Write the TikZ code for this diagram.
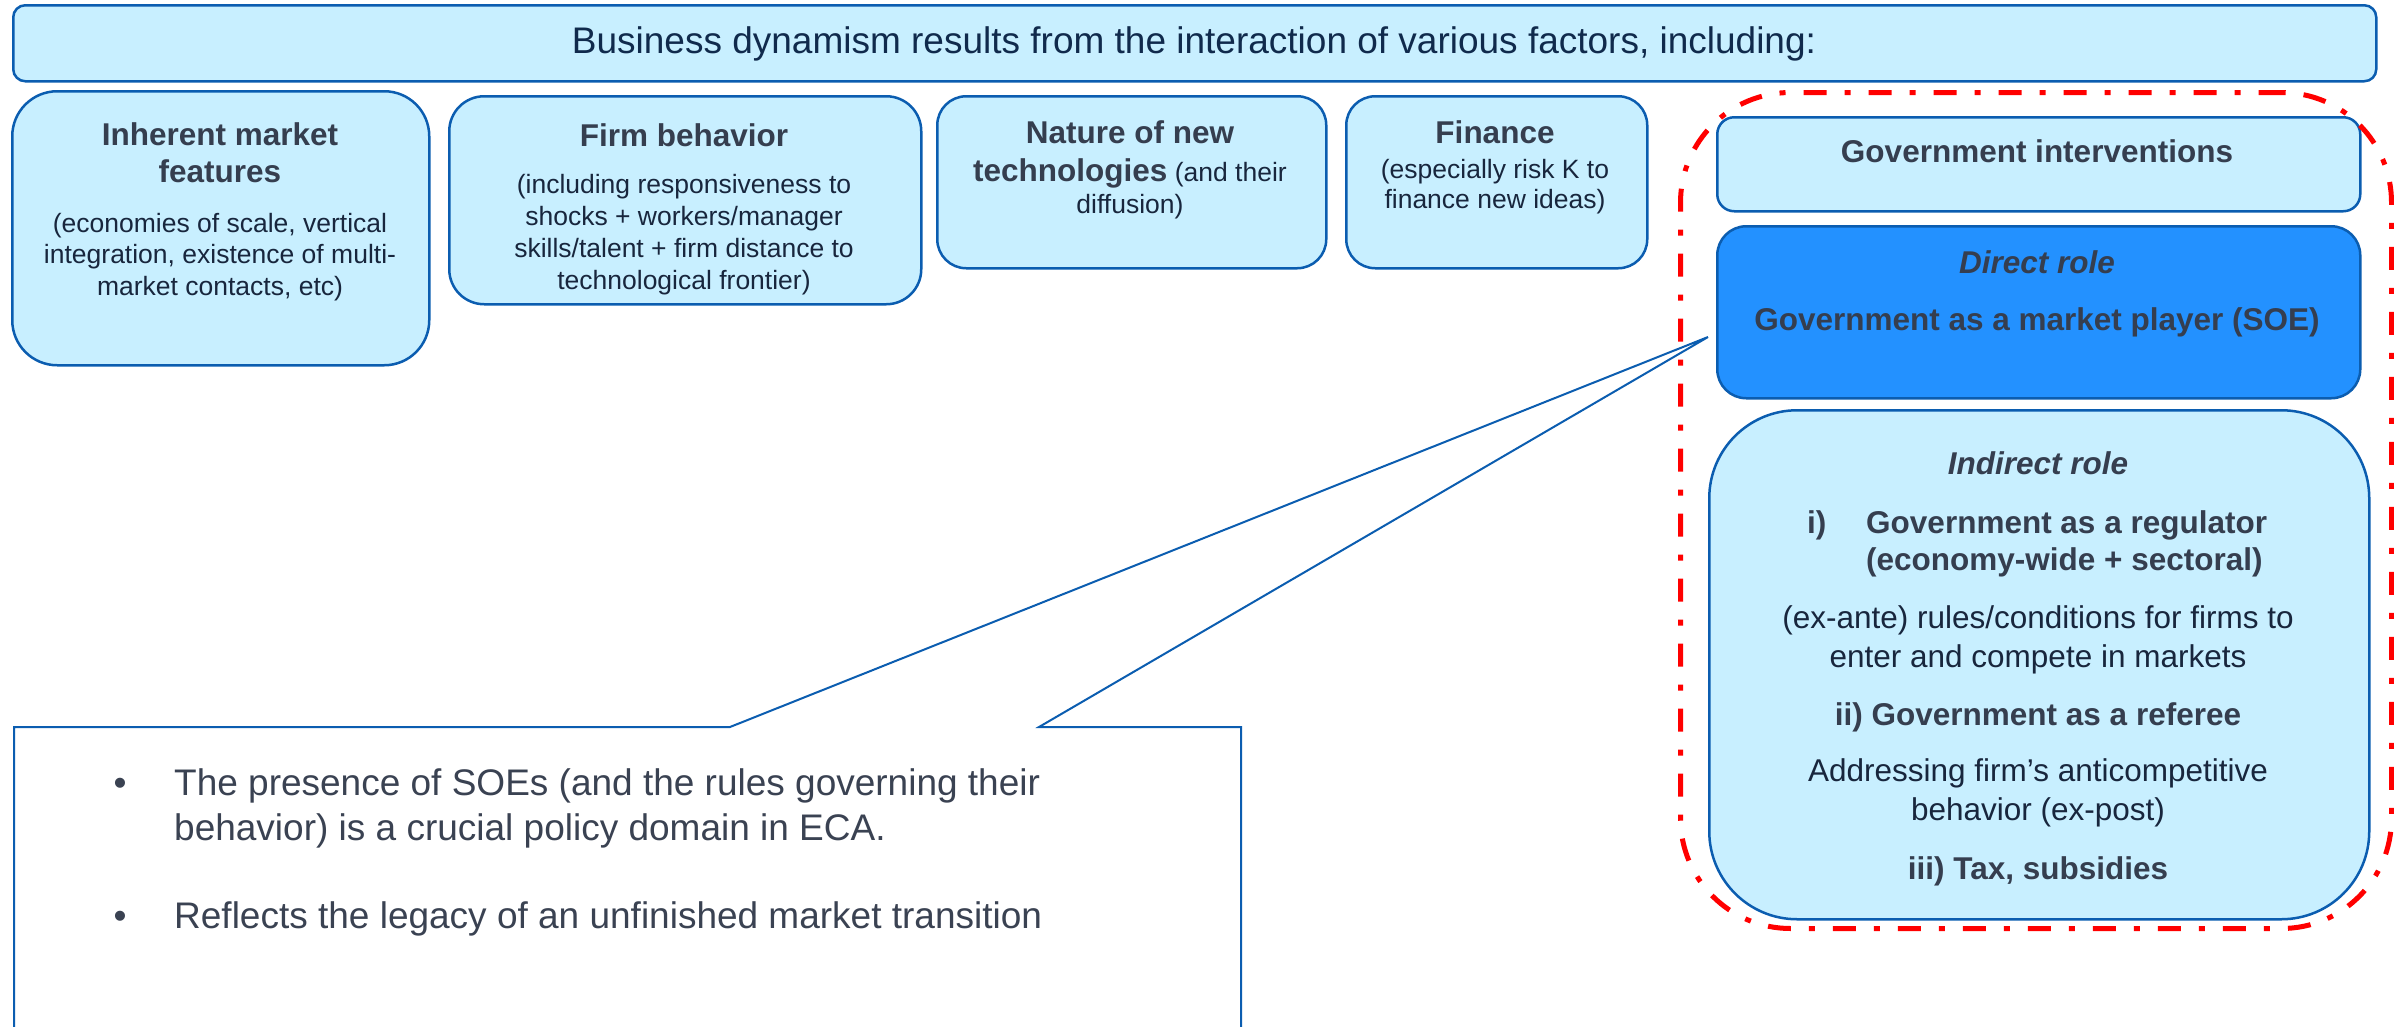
\documentclass[tikz,border=0pt]{standalone}
\usepackage{fontspec}
\setmainfont{Liberation Sans}
\definecolor{boxfill}{HTML}{C8EFFF}
\definecolor{boxline}{HTML}{0B5DB0}
\definecolor{directfill}{HTML}{2391FF}
\definecolor{bannertext}{HTML}{102A4C}
\definecolor{titletext}{HTML}{353E4F}
\definecolor{bodytext}{HTML}{18263D}
\definecolor{calltext}{HTML}{3A4252}
\definecolor{framered}{HTML}{FF0000}

% multi-line nodes below are placed by the baseline of their last line
\tikzset{
  box/.style={draw=boxline, fill=boxfill, line width=2.5pt, inner sep=0pt, anchor=north west},
  ttl/.style={font=\bfseries\fontsize{31.5}{37}\selectfont, text=titletext, inner sep=0pt, anchor=base, align=center},
  itl/.style={font=\bfseries\itshape\fontsize{31.5}{37}\selectfont, text=titletext, inner sep=0pt, anchor=base, align=center},
  small/.style={font=\fontsize{26.5}{31.5}\selectfont, text=bodytext, inner sep=0pt, anchor=base, align=center},
  govtxt/.style={font=\fontsize{31.5}{38.5}\selectfont, text=bodytext, inner sep=0pt, anchor=base, align=center},
  bigtxt/.style={font=\fontsize{37}{45}\selectfont, text=calltext, inner sep=0pt, anchor=base west, align=left},
  redframe/.style={draw=framered, line width=5pt, rounded corners=110pt, inner sep=0pt, anchor=north west,
    dash pattern=on 23pt off 18pt on 6pt off 18pt},
}

\begin{document}
\begin{tikzpicture}[x=1pt,y=-1pt]
\useasboundingbox (0,0) rectangle (2394,1026);

% headline banner
\node[box, rounded corners=12pt, minimum width=2363, minimum height=76] (banner) at (12,4) {};
\node[font=\fontsize{37}{44}\selectfont, text=bannertext, inner sep=0pt, anchor=base] (bannerT) at (1194,53)
  {Business dynamism results from the interaction of various factors, including:};

% factor boxes
\node[box, rounded corners=45pt, minimum width=417, minimum height=274] (inh) at (11,90) {};
\node[ttl] (inhT) at (220,182) {Inherent market\\features};
\node[small] (inhB) at (220,295) {(economies of scale, vertical\\integration, existence of multi-\\market contacts, etc)};

\node[box, rounded corners=35pt, minimum width=472, minimum height=208] (firm) at (448,95) {};
\node[ttl] (firmT) at (684,146) {Firm behavior};
\node[small, font=\fontsize{26.5}{32}\selectfont] (firmB) at (684,289) {(including responsiveness to\\shocks + workers/manager\\skills/talent + firm distance to\\technological frontier)};

\node[box, rounded corners=29pt, minimum width=389, minimum height=172] (tech) at (936,95) {};
\node[ttl] (techT) at (1130,143) {Nature of new};
\node[small] (techB) at (1130,213) {{\bfseries\fontsize{31.5}{37}\selectfont\color{titletext}technologies} (and their\\diffusion)};

\node[box, rounded corners=29pt, minimum width=301, minimum height=172] (fin) at (1345,95) {};
\node[ttl] (finT) at (1495,143) {Finance};
\node[small, font=\fontsize{26.5}{30}\selectfont] (finB) at (1495,208) {(especially risk K to\\finance new ideas)};

% government column
\node[box, rounded corners=17pt, minimum width=643, minimum height=94] (gov) at (1716,116) {};
\node[ttl] (govT) at (2037,162) {Government interventions};

\node[box, fill=directfill, rounded corners=29pt, minimum width=643, minimum height=172] (direct) at (1716,225) {};
\node[itl] (directT) at (2037,273) {Direct role};
\node[ttl] (directB) at (2037,330) {Government as a market player (SOE)};

\node[box, rounded corners=88pt, minimum width=660, minimum height=509] (indirect) at (1708,409) {};
\node[itl] (indT) at (2038,474) {Indirect role};
\node[ttl, anchor=base west] (indI) at (1807,533) {i)};
\node[ttl, anchor=base west, align=left] (indIa) at (1866,570) {Government as a regulator\\(economy-wide + sectoral)};
\node[govtxt] (indIb) at (2038,667) {(ex-ante) rules/conditions for firms to\\enter and compete in markets};
\node[ttl] (indII) at (2038,725) {ii) Government as a referee};
\node[govtxt] (indIIb) at (2038,820) {Addressing firm’s anticompetitive\\behavior (ex-post)};
\node[ttl] (indIII) at (2038,879) {iii) Tax, subsidies};

% callout on state-owned enterprises
\coordinate (tip) at (1708,337);
\coordinate (cTL) at (14,727);
\coordinate (cTR) at (1241,727);
\coordinate (cBL) at (14,1032);
\coordinate (cBR) at (1241,1032);
\coordinate (pA) at (730,727);
\coordinate (pB) at (1039,727);
\draw[boxline, fill=white, line width=2pt, line join=miter]
  (cBL) -- (cTL) -- (pA) -- (tip) -- (pB) -- (cTR) -- (cBR);

\node[bigtxt, anchor=base] (bul1) at (120,795) {•};
\node[bigtxt] (call1) at (174,840) {The presence of SOEs (and the rules governing their\\behavior) is a crucial policy domain in ECA.};
\node[bigtxt, anchor=base] (bul2) at (120,928) {•};
\node[bigtxt] (call2) at (174,928) {Reflects the legacy of an unfinished market transition};

% dash-dot frame around the government column
\node[redframe, minimum width=711, minimum height=836] (frame) at (1678,90) {};
\end{tikzpicture}
\end{document}
